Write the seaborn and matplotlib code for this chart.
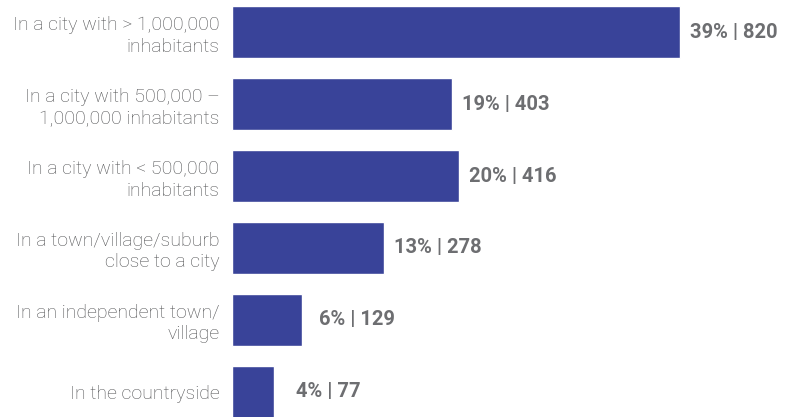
import matplotlib
matplotlib.use("Agg")
import matplotlib.pyplot as plt
import seaborn as sns
import pandas as pd

categories = [
    "In a city with > 1,000,000\ninhabitants",
    "In a city with 500,000 –\n1,000,000 inhabitants",
    "In a city with < 500,000\ninhabitants",
    "In a town/village/suburb\nclose to a city",
    "In an independent town/\nvillage",
    "In the countryside",
]
counts = [820, 403, 416, 278, 129, 77]
percents = [39, 19, 20, 13, 6, 4]

df = pd.DataFrame({"category": categories, "count": counts, "pct": percents})

sns.set_theme(style="white")
plt.rcParams["font.family"] = ["Roboto", "DejaVu Sans"]

W, H = 787, 417
fig = plt.figure(figsize=(W / 100, H / 100), dpi=100)
ax = fig.add_axes([232 / W, 0, (W - 232) / W, 1])

sns.barplot(data=df, y="category", x="count", orient="h", color="#394399",
            saturation=1, width=0.72, ax=ax)

ax.set_xlim(0, 1016)
ax.set_ylim(5.351, -0.449)
ax.set_xlabel("")
ax.set_ylabel("")
ax.set_xticks([])
for s in ax.spines.values():
    s.set_visible(False)
ax.tick_params(axis="y", length=0, pad=9)
for lab in ax.get_yticklabels():
    lab.set_fontsize(14)
    lab.set_color("#505153")
    lab.set_fontweight("light")
    lab.set_horizontalalignment("right")
    lab.set_multialignment("right")
    lab.set_linespacing(1.25)

for i, (c, p) in enumerate(zip(counts, percents)):
    ax.annotate(f"{p}% | {c}", xy=(c, i), xytext=(54 * 0.72, 0),
                textcoords="offset points", ha="center", va="center",
                fontsize=14.5, fontweight="bold", color="#6d6e71")

fig.savefig("out.png", dpi=100)
